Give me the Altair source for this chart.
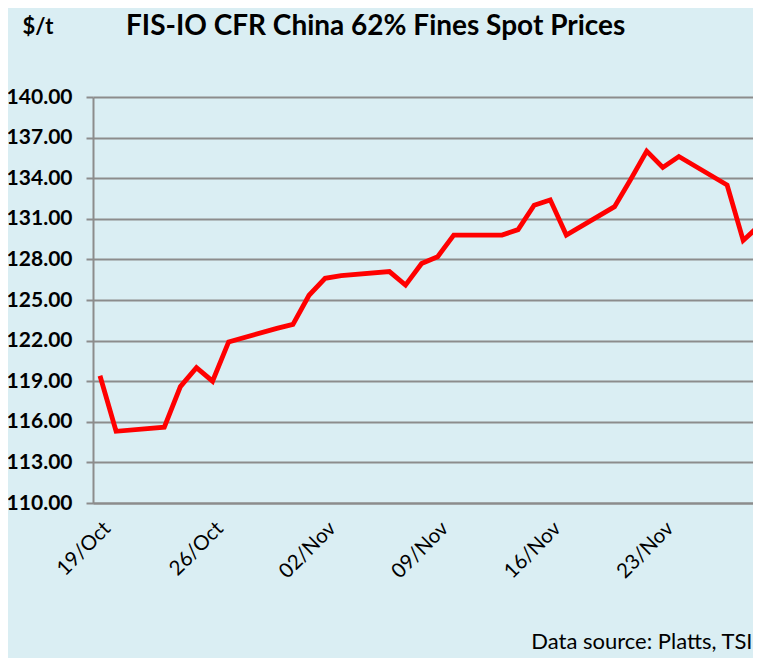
import altair as alt
import pandas as pd

dates = ["2023-10-19", "2023-10-20", "2023-10-23", "2023-10-24", "2023-10-25",
         "2023-10-26", "2023-10-27", "2023-10-30", "2023-10-31", "2023-11-01",
         "2023-11-02", "2023-11-03", "2023-11-06", "2023-11-07", "2023-11-08",
         "2023-11-09", "2023-11-10", "2023-11-13", "2023-11-14", "2023-11-15",
         "2023-11-16", "2023-11-17", "2023-11-20", "2023-11-21", "2023-11-22",
         "2023-11-23", "2023-11-24", "2023-11-27", "2023-11-28", "2023-11-29"]
prices = [119.4, 115.3, 115.6, 118.6, 120.0,
          119.0, 121.9, 122.9, 123.2, 125.35,
          126.6, 126.8, 127.1, 126.1, 127.7,
          128.2, 129.8, 129.8, 130.2, 132.0,
          132.4, 129.8, 131.9, 133.9, 136.0,
          134.8, 135.6, 133.5, 129.4, 130.5]
y_ticks = [110, 113, 116, 119, 122, 125, 128, 131, 134, 137, 140]
x_ticks = [(10, 19), (10, 26), (11, 2), (11, 9), (11, 16), (11, 23)]

df = pd.DataFrame({"date": [d + "T00:00:00" for d in dates], "price": prices})

GRID = "#8C8C8C"
BG = "#DAEEF3"
FONT = "Lato"

chart = alt.Chart(df).mark_line(color="#FF0000", strokeWidth=4.8, clip=True).encode(
    x=alt.X(
        "date:T",
        scale=alt.Scale(domain=[alt.DateTime(year=2023, month=10, date=18, hours=13, minutes=34),
                                alt.DateTime(year=2023, month=11, date=28, hours=14, minutes=38)]),
        axis=alt.Axis(
            values=[alt.DateTime(year=2023, month=m, date=d) for m, d in x_ticks],
            format="%d/%b",
            labelAngle=-45,
            labelFont=FONT,
            labelFontSize=20.5,
            labelColor="black",
            labelPadding=15,
            ticks=False,
            grid=False,
            domainColor=GRID,
            domainWidth=2,
            title="Data source: Platts, TSI",
            titleFont=FONT,
            titleFontSize=22,
            titleFontWeight="normal",
            titleColor="black",
            titleAlign="right",
            titleAnchor="end",
            titleBaseline="alphabetic",
            titleX=659,
            titleY=145,
        ),
    ),
    y=alt.Y(
        "price:Q",
        scale=alt.Scale(domain=[110, 140], nice=False, zero=False),
        axis=alt.Axis(
            values=y_ticks,
            format=".2f",
            labelFont=FONT,
            labelFontSize=21,
            labelFontWeight="bold",
            labelColor="black",
            labelPadding=14,
            tickSize=7,
            tickColor=GRID,
            tickWidth=2,
            grid=True,
            gridColor=GRID,
            gridWidth=2,
            domainColor=GRID,
            domainWidth=2,
            title="$/t",
            titleAngle=0,
            titleFont=FONT,
            titleFontSize=22,
            titleFontWeight="bold",
            titleColor="black",
            titleAlign="left",
            titleBaseline="alphabetic",
            titleX=-71,
            titleY=-64,
        ),
    ),
).properties(
    width=660,
    height=406,
    padding={"left": 85, "top": 89, "right": 0, "bottom": 155},
    autosize=alt.AutoSizeParams(type="none"),
    background=BG,
    title=alt.TitleParams(
        text="FIS-IO CFR China 62% Fines Spot Prices",
        anchor="start",
        frame="group",
        dx=33,
        dy=48,
        font=FONT,
        fontSize=28,
        fontWeight="bold",
        color="black",
        baseline="alphabetic",
        offset=0,
    ),
).configure_view(strokeWidth=0)

chart.save("out.html", embed_options={"renderer": "svg", "actions": False})
